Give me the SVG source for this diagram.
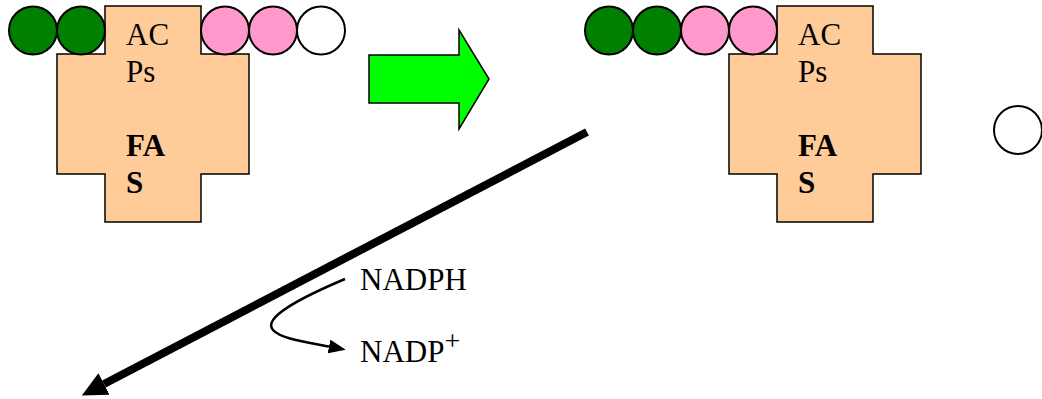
<svg xmlns="http://www.w3.org/2000/svg" width="1042" height="399" viewBox="0 0 1042 399">
<style>
.fas{fill:#FFCC99;stroke:#000;stroke-width:1.5}
.t{font-family:"Liberation Serif","Times New Roman",serif;font-size:31px;fill:#000}
.b{font-weight:bold}
.g{fill:#007F00;stroke:#000;stroke-width:2}
.p{fill:#FF99CC;stroke:#000;stroke-width:2}
.w{fill:#fff;stroke:#000;stroke-width:2}
.big{fill:none;stroke:#000;stroke-width:8}
.small{fill:none;stroke:#000;stroke-width:2.5}
</style>
<defs>
<marker id="bighead" markerUnits="userSpaceOnUse" markerWidth="26" markerHeight="24" refX="0" refY="12" orient="auto" viewBox="0 0 26 24">
<path d="M0,0 L25,12 L0,24 z" fill="#000"/>
</marker>
<marker id="smallhead" markerUnits="userSpaceOnUse" markerWidth="17" markerHeight="14" refX="0" refY="7" orient="auto" viewBox="0 0 17 14">
<path d="M0,0 L17,7 L0,14 z" fill="#000"/>
</marker>
</defs>
<g id="fas-left">
<path class="fas" d="M105,6 H201 V54 H249 V174 H201 V222 H105 V174 H57 V54 H105 Z"/>
<text class="t" x="126" y="45">AC</text>
<text class="t" x="126" y="82">Ps</text>
<text class="t b" x="126" y="156">FA</text>
<text class="t b" x="126" y="193">S</text>
</g>
<g id="chain-left">
<circle class="g" cx="33" cy="30.5" r="24"/>
<circle class="g" cx="81" cy="30.5" r="24"/>
<circle class="p" cx="225" cy="30.5" r="24"/>
<circle class="p" cx="273" cy="30.5" r="24"/>
<circle class="w" cx="321" cy="30.5" r="24"/>
</g>
<g id="green-arrow">
<polygon points="369,55 459,55 459,30 489,79 459,129 459,103 369,103" fill="#00FF00" stroke="#000" stroke-width="1.5"/>
</g>
<g id="fas-right">
<path class="fas" d="M777,6 H873 V54 H921 V174 H873 V222 H777 V174 H729 V54 H777 Z"/>
<text class="t" x="798" y="45">AC</text>
<text class="t" x="798" y="82">Ps</text>
<text class="t b" x="798" y="156">FA</text>
<text class="t b" x="798" y="193">S</text>
</g>
<g id="chain-right">
<circle class="g" cx="609" cy="30.5" r="24"/>
<circle class="g" cx="657" cy="30.5" r="24"/>
<circle class="p" cx="705" cy="30.5" r="24"/>
<circle class="p" cx="753" cy="30.5" r="24"/>
</g>
<g id="free-circle">
<circle class="w" cx="1018" cy="130" r="24"/>
</g>
<g id="labels">
<text class="t" x="360" y="290">NADPH</text>
<text class="t" x="360" y="362">NADP<tspan font-size="28" dy="-12">+</tspan></text>
</g>
<g id="connectors">
<path class="big" d="M587,132 L104,384" marker-end="url(#bighead)"/>
<path class="small" d="M345,279 C300,298 262,318 273,330 C280,338 300,341 329,346.5" marker-end="url(#smallhead)"/>
</g>
</svg>
